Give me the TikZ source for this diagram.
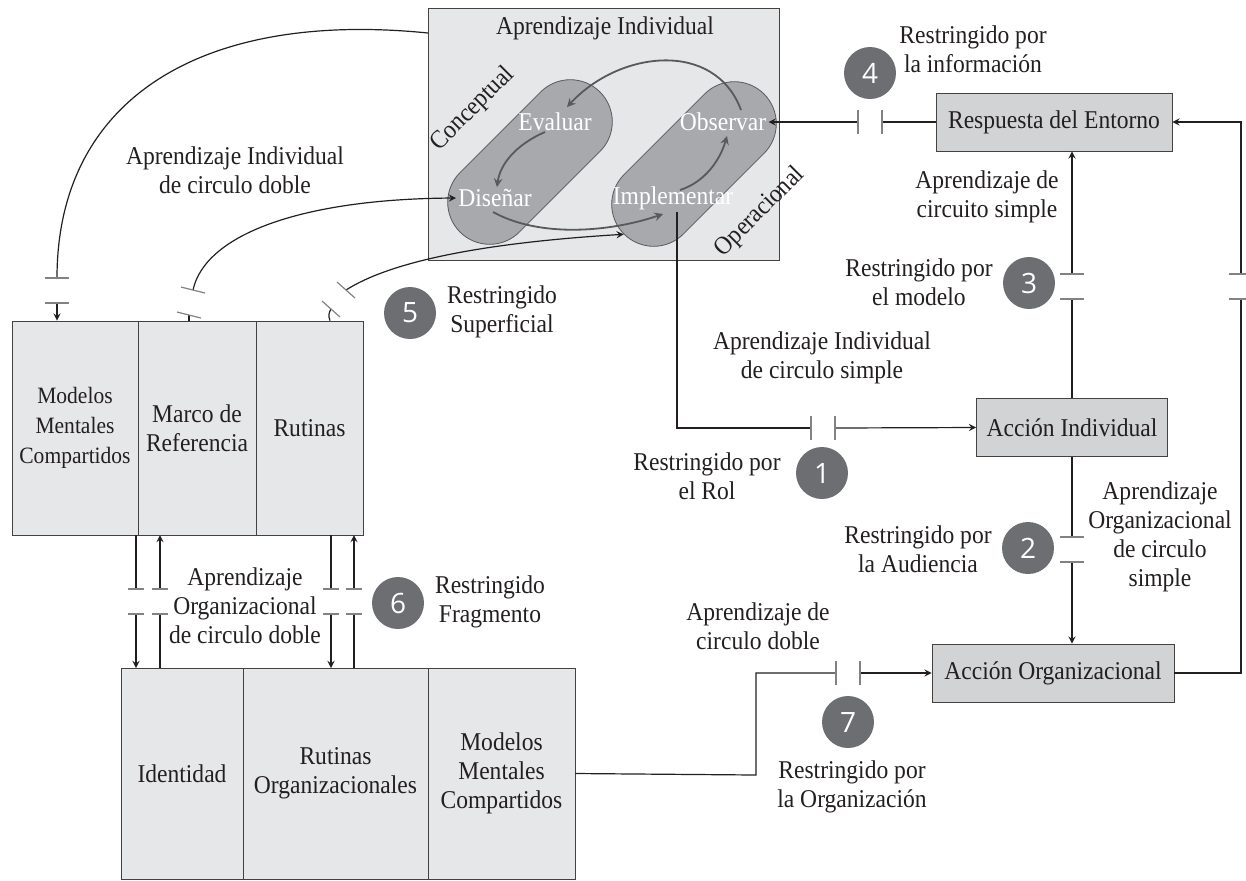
\documentclass[tikz,border=0pt]{standalone}
\usepackage{fontspec}
\setmainfont{Liberation Serif}[FakeStretch=0.92]
\newfontfamily\numfont{Open Sans}
\usetikzlibrary{positioning, arrows, calc}
\definecolor{boxgray}{HTML}{E6E7E8}
\definecolor{actgray}{HTML}{D1D3D4}
\definecolor{capgray}{HTML}{A7A9AC}
\definecolor{capline}{HTML}{58595B}
\definecolor{dotgray}{HTML}{6D6E71}
\definecolor{brkgray}{HTML}{808285}
\definecolor{ink}{HTML}{231F20}
\tikzset{
    >=stealth, % arrow heads
    every node/.style={font=\fontsize{12.8}{14.5}\selectfont, align=center, text=ink}, % text everywhere
    cell/.style={draw=ink!85, fill=boxgray, inner sep=0pt}, % the big boxes
    action/.style={draw=ink!85, fill=actgray, inner sep=0pt, minimum height=29pt}, % small boxes on the right
    capsule/.style={draw=capline, fill=capgray, rounded corners=21pt, minimum width=99pt, minimum height=42pt, rotate=45},
    badge/.style={circle, fill=dotgray, text=white, minimum size=26pt, inner sep=0pt, font=\numfont\fontsize{14}{14}\selectfont},
    brk/.style={draw=brkgray, line width=0.6pt, -}, % the two marks of a break
    link/.style={draw=ink, line width=0.6pt},
    cyc/.style={draw=capline, line width=0.9pt, ->},
    white text/.style={text=white},
}
\begin{document}
\begin{tikzpicture}[x=0.5pt, y=-0.5pt]
    \useasboundingbox (0,0) rectangle (1246,880);

    % individual learning
    \node[cell, minimum width=175.5pt, minimum height=126pt] (indiv) at (603.5,134) {};
    \node (indivtitle) at (605,28) {Aprendizaje Individual};
    \node[capsule] (con) at (530,162) {};
    \node[capsule] (opr) at (694,164) {};
    \node[rotate=45, inner sep=1pt] (conlab) at (473,109) {Conceptual};
    \node[rotate=45, inner sep=1pt] (oprlab) at (760,212) {Operacional};
    \node[white text, inner sep=1pt] (eva) at (555,122) {Evaluar};
    \node[white text, inner sep=1pt] (dis) at (495,198) {Diseñar};
    \node[white text, inner sep=1pt] (obs) at (723,122) {Observar};
    \node[white text, inner sep=1pt] (imp) at (673,198) {Implementar};
    \draw[cyc] (545,132) .. controls (515,145) and (500,165) .. (497,187);
    \draw[cyc] (493,212) .. controls (540,238) and (610,232) .. (663,214);
    \draw[cyc] (680,190) .. controls (705,182) and (720,160) .. (727,136);
    \draw[cyc] (741,110) .. controls (715,40) and (620,50) .. (567,107);

    % left group
    \node[cell, minimum width=63pt, minimum height=107pt, font=\fontsize{11.7}{15}\selectfont] (mmc) at (75,428) {Modelos\\Mentales\\Compartidos};
    \node[cell, minimum width=59pt, minimum height=107pt] (mdr) at (197,428) {Marco de\\Referencia};
    \node[cell, minimum width=53.5pt, minimum height=107pt] (rut) at (309.5,428) {Rutinas};

    % bottom group
    \node[cell, minimum width=61pt, minimum height=105.5pt] (iden) at (182,773.5) {Identidad};
    \node[cell, minimum width=92.5pt, minimum height=105.5pt] (rorg) at (335.5,773.5) {Rutinas\\Organizacionales};
    \node[cell, minimum width=73.5pt, minimum height=105.5pt] (mmcb) at (501.5,773.5) {Modelos\\Mentales\\Compartidos};

    % actions
    \node[action, minimum width=118pt] (resp) at (1054,122) {Respuesta del Entorno};
    \node[action, minimum width=95.5pt] (aind) at (1072,427.5) {Acción Individual};
    \node[action, minimum width=121pt] (aorg) at (1053,673) {Acción Organizacional};

    % badges
    \node[badge] (b1) at (822,473) {1};
    \node[badge] (b2) at (1028,548) {2};
    \node[badge] (b3) at (1029,283) {3};
    \node[badge] (b4) at (870,73) {4};
    \node[badge] (b5) at (410,313) {5};
    \node[badge] (b6) at (398,603) {6};
    \node[badge] (b7) at (848,722) {7};

    % labels
    \node (lab1) at (707,476) {Restringido por\\el Rol};
    \node (lab2) at (918,549) {Restringido por\\la Audiencia};
    \node (lab3) at (919,282) {Restringido por\\el modelo};
    \node (lab4) at (973,49) {Restringido por\\la información};
    \node (lab5) at (502,312) {Restringido\\Superficial};
    \node (lab6) at (490,602) {Restringido\\Fragmento};
    \node (lab7) at (852,787) {Restringido por\\la Organización};
    \node (aics) at (822,358) {Aprendizaje Individual\\de circulo simple};
    \node (aicd) at (235,170) {Aprendizaje Individual\\de circulo doble};
    \node (acs) at (987,197) {Aprendizaje de\\circuito simple};
    \node (aocs) at (1160,537) {Aprendizaje\\Organizacional\\de circulo\\simple};
    \node (aocd) at (245,606) {Aprendizaje\\Organizacional\\de circulo doble};
    \node (acd) at (758,626) {Aprendizaje de\\circulo doble};

    % break points
    \coordinate (t1a) at (811,428); \coordinate (t1b) at (835,428);
    \coordinate (t2a) at (1072,537); \coordinate (t2b) at (1072,562);
    \coordinate (t3a) at (1072,299); \coordinate (t3b) at (1072,274);
    \coordinate (t4a) at (882,122); \coordinate (t4b) at (858,122);
    \coordinate (tra) at (1241,299); \coordinate (trb) at (1241,274);
    \coordinate (t7a) at (836,673); \coordinate (t7b) at (860,673);
    \coordinate (c1a) at (57,278); \coordinate (c1b) at (57,303);
    \coordinate (c2a) at (189,315); \coordinate (c2b) at (193,290);
    \coordinate (c3a) at (331,309); \coordinate (c3b) at (346,290);
    \coordinate (k1) at (428,33);

    % right side connectors
    \draw[link] (imp.south -| 677,0) -- (677,428) -- (t1a);
    \draw[link, ->] (t1b) -- (aind.west);
    \draw[link] (aind.south) -- (t2a);
    \draw[link, ->] (t2b) -- (aorg.north -| t2b);
    \draw[link] (aind.north) -- (t3a);
    \draw[link, ->] (t3b) -- (resp.south -| t3b);
    \draw[link] (resp.west) -- (t4a);
    \draw[link, ->] (t4b) -- (obs.east);
    \draw[link] (aorg.east) -- (aorg.east -| tra) -- (tra);
    \draw[link, ->] (trb) -- (resp.east -| trb) -- (resp.east);
    \draw[link] (mmcb.east) -- (756,775) -- (756,673) -- (t7a);
    \draw[link, ->] (t7b) -- (aorg.west);
    \foreach \p in {t1a,t1b,t4a,t4b,t7a,t7b}
        \draw[brk] ($(\p)+(0,-12)$) -- ($(\p)+(0,12)$);
    \foreach \p in {t2a,t2b,t3a,t3b,tra,trb}
        \draw[brk] ($(\p)+(-12,0)$) -- ($(\p)+(12,0)$);

    % curves to the left group
    \draw[link] (k1) .. controls (200,10) and (57,100) .. (c1a);
    \draw[link, ->] (c1b) -- (mmc.north -| c1b);
    \draw[link] (mdr.north -| c2a) -- (c2a);
    \draw[link, ->] (c2b) .. controls (205,235) and (300,199) .. (dis.west);
    \draw[link] (rut.north -| 330,0) .. controls (328,316) and (329,312) .. (c3a);
    \draw[link, ->] (c3b) .. controls (390,262) and (480,243) .. (opr.west);
    \foreach \p in {c1a,c1b}
        \draw[brk] ($(\p)+(-12,0)$) -- ($(\p)+(12,0)$);
    \foreach \p in {c2a,c2b}
        \draw[brk] ($(\p)+(-12,-3)$) -- ($(\p)+(12,3)$);
    \foreach \p in {c3a,c3b}
        \draw[brk] ($(\p)+(-9,-8)$) -- ($(\p)+(9,8)$);

    % between the two groups
    \foreach \x in {136,331} {
        \draw[link] (\x,535) -- (\x,589);
        \draw[link, ->] (\x,614) -- (\x,668);
    }
    \foreach \x in {160,354} {
        \draw[link] (\x,668) -- (\x,614);
        \draw[link, ->] (\x,589) -- (\x,535);
    }
    \foreach \x in {136,160,331,354} {
        \draw[brk] (\x-8,589) -- (\x+8,589);
        \draw[brk] (\x-8,614) -- (\x+8,614);
    }
\end{tikzpicture}
\end{document}
